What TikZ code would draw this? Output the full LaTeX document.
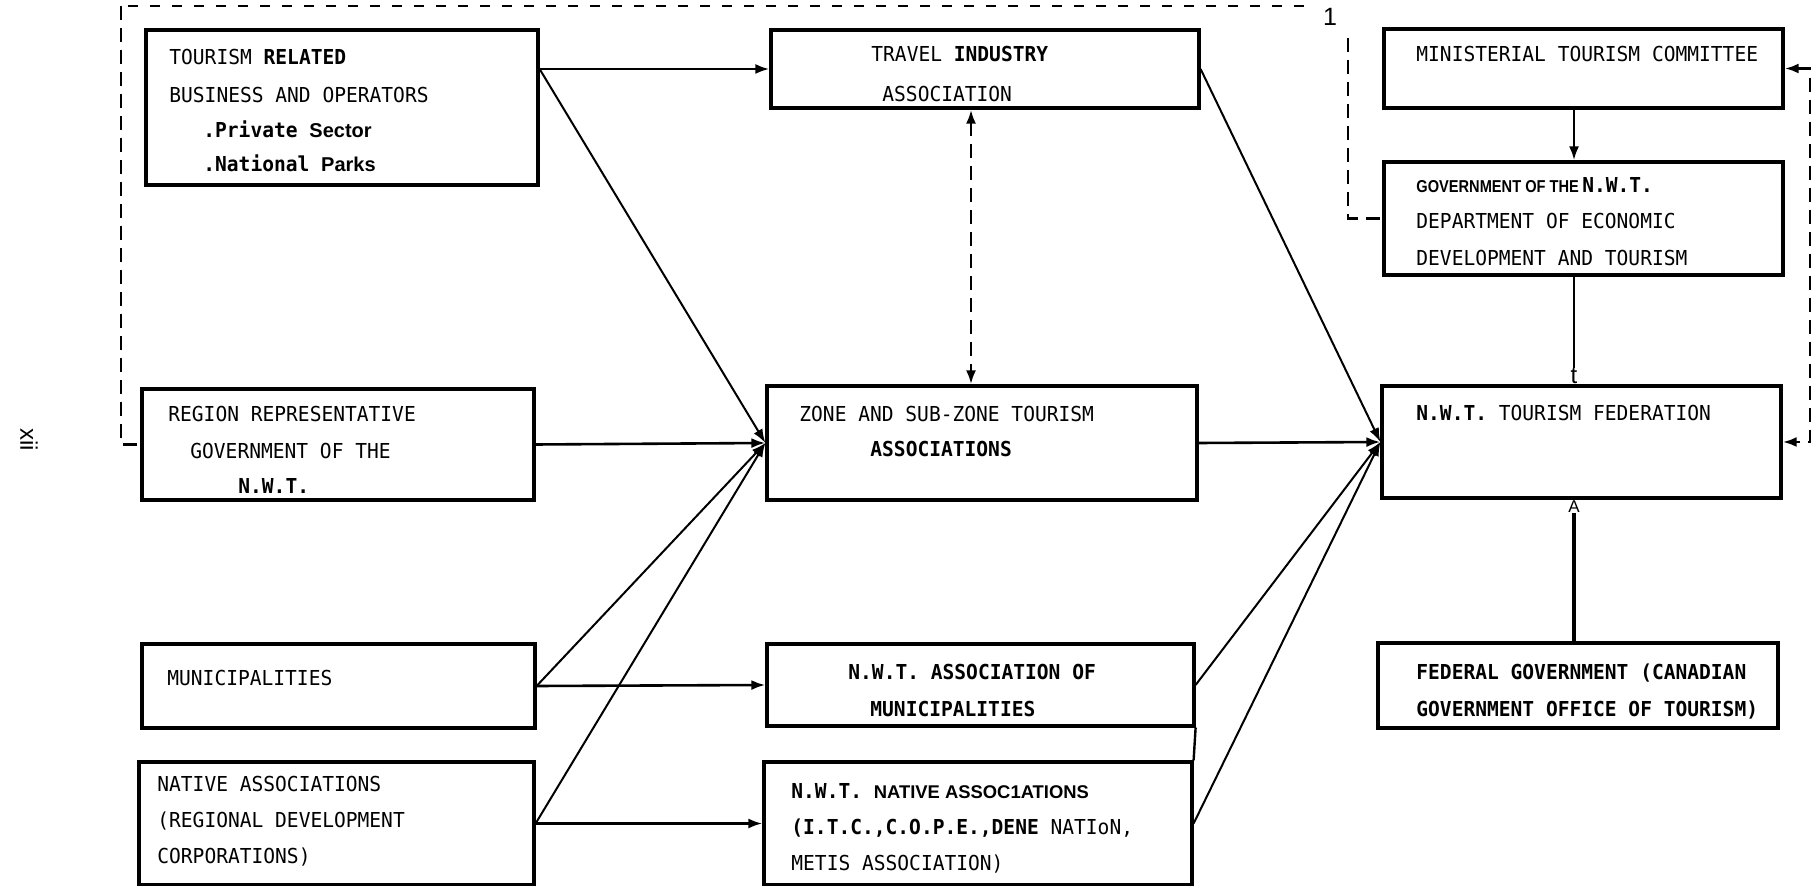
\documentclass[tikz,border=0pt]{standalone}
\usepackage{fontspec}
\setmainfont{DejaVu Sans Mono}[FakeStretch=0.95]
\newfontfamily\hlv{Liberation Sans}
\newfontfamily\hlvn{Liberation Sans}[FakeStretch=0.85]
\usetikzlibrary{arrows.meta}
\newcommand{\mfont}{\fontsize{10.3}{12}\selectfont}
\newcommand{\hlvsml}{\hlv\bfseries\fontsize{10}{12}\selectfont}
\newcommand{\spinex}{1574}
\newcommand{\dashvx}{971}
\newcommand{\txla}{169}
\newcommand{\txlb}{203}
\newcommand{\txlc}{1416}
\newcommand{\txld}{791}
\tikzset{
  bx/.style={draw,line width=1.6pt,inner sep=0pt},
  txt/.style={anchor=west,inner sep=0pt,text height=7.5pt,text depth=0pt},
  arr/.style={-{Latex[length=7pt,width=5pt]},line width=1.3pt},
  dia/.style={arr,line width=1pt},
  dsh/.style={line width=1.4pt,dash pattern=on 7pt off 4pt},
  dshthin/.style={line width=0.7pt,dash pattern=on 5pt off 6pt}
}
\begin{document}
\begin{tikzpicture}[x=0.5pt,y=-0.5pt,font=\mfont]
  \useasboundingbox (0,0) rectangle (1813,886);

  % boxes
  \node[bx,minimum width=196pt,minimum height=77.5pt] (trb) at (342,107.5) {};
  \node[bx,minimum width=214pt,minimum height=39pt] (tia) at (985,69) {};
  \node[bx,minimum width=199.5pt,minimum height=39.5pt] (mtc) at (1583.5,68.5) {};
  \node[bx,minimum width=199.5pt,minimum height=56.5pt] (gov) at (1583.5,218.5) {};
  \node[bx,minimum width=196pt,minimum height=55.5pt] (rrg) at (338,444.5) {};
  \node[bx,minimum width=215pt,minimum height=57pt] (zst) at (982,443) {};
  \node[bx,minimum width=199.5pt,minimum height=56pt] (tfd) at (1581.5,442) {};
  \node[bx,minimum width=196.5pt,minimum height=42pt] (mun) at (338.5,686) {};
  \node[bx,minimum width=213.5pt,minimum height=41pt] (amn) at (980.5,685) {};
  \node[bx,minimum width=197.5pt,minimum height=61.5pt] (nat) at (336.5,823.5) {};
  \node[bx,minimum width=214pt,minimum height=61.5pt] (nna) at (978,823.5) {};
  \node[bx,minimum width=200pt,minimum height=42.5pt] (fgv) at (1578,685.5) {};

  % texts
  \node[txt] (trba) at (\txla,57) {TOURISM \textbf{RELATED}};
  \node[txt] (trbb) at (\txla,95) {BUSINESS AND OPERATORS};
  \node[txt] (trbc) at (\txlb,130) {\textbf{.Private} {\hlvsml Sector}};
  \node[txt] (trbd) at (\txlb,164) {\textbf{.National} {\hlvsml Parks}};

  \node[txt] (tiaa) at (871,54) {TRAVEL \textbf{INDUSTRY}};
  \node[txt] (tiab) at (882,94) {ASSOCIATION};

  \node[txt] (mtca) at (\txlc,54) {MINISTERIAL TOURISM COMMITTEE};

  \node[txt] (gova) at (\txlc,185)
    {{\hlvn\bfseries\fontsize{8.6}{10}\selectfont GOVERNMENT OF THE}\,\textbf{N.W.T.}};
  \node[txt] (govb) at (\txlc,221) {DEPARTMENT OF ECONOMIC};
  \node[txt] (govc) at (\txlc,258) {DEVELOPMENT AND TOURISM};

  \node[txt] (rrga) at (168,414) {REGION REPRESENTATIVE};
  \node[txt] (rrgb) at (190,451) {GOVERNMENT OF THE};
  \node[txt] (rrgc) at (238,486) {\textbf{N.W.T.}};

  \node[txt] (zsta) at (799,414) {ZONE AND SUB-ZONE TOURISM};
  \node[txt] (zstb) at (870,449) {\textbf{ASSOCIATIONS}};

  \node[txt] (tfda) at (\txlc,413) {\textbf{N.W.T.} TOURISM FEDERATION};

  \node[txt] (muna) at (167,678) {MUNICIPALITIES};

  \node[txt] (amna) at (848,672) {\textbf{N.W.T. ASSOCIATION OF}};
  \node[txt] (amnb) at (870,709) {\textbf{MUNICIPALITIES}};

  \node[txt] (nata) at (157,784) {NATIVE ASSOCIATIONS};
  \node[txt] (natb) at (157,820) {(REGIONAL DEVELOPMENT};
  \node[txt] (natc) at (157,856) {CORPORATIONS)};

  \node[txt] (nnaa) at (\txld,791)
    {\textbf{N.W.T.} {\hlv\bfseries\fontsize{9.2}{11}\selectfont NATIVE ASSOC1ATIONS}};
  \node[txt] (nnab) at (\txld,827) {\textbf{(I.T.C.,C.O.P.E.,DENE} NATIoN,};
  \node[txt] (nnac) at (\txld,863) {METIS ASSOCIATION)};

  \node[txt] (fgva) at (\txlc,672) {\textbf{FEDERAL GOVERNMENT (CANADIAN}};
  \node[txt] (fgvb) at (\txlc,709) {\textbf{GOVERNMENT OFFICE OF TOURISM)}};

  \node[font=\hlv\fontsize{12.5}{14}\selectfont,inner sep=0pt] (pgone) at (1330,17) {1};
  \node[font=\hlv\fontsize{12}{14}\selectfont,rotate=-90,inner sep=0pt] (pgno) at (29,440) {xii};
  \node[font=\hlv\fontsize{12}{14}\selectfont,inner sep=0pt] (tfdt) at (\spinex,376) {t};
  \node[font=\hlv\fontsize{8.5}{10}\selectfont,inner sep=0pt] (fgvt) at (\spinex,507) {A};

  % coordinates
  \coordinate (brkend) at (1304,6);
  \coordinate (brktl) at (121,6);
  \coordinate (govdtop) at (1348,38);
  \coordinate (rdash) at (1810,250);
  \coordinate (dashv) at (\dashvx,0);

  % connectors
  \draw[arr] (trb.east |- tia.west) -- (tia.west);
  \draw[dia] (trb.east |- tia.west) -- (zst.west);
  \draw[arr] (rrg.east) -- (zst.west);
  \draw[dia] (mun.east) -- (zst.west);
  \draw[dia] (nat.east) -- (zst.west);
  \draw[arr] (mun.east) -- (amn.west);
  \draw[arr] (nat.east) -- (nna.west);
  \draw[dia] (tia.east) -- (tfd.west);
  \draw[arr] (zst.east) -- (tfd.west);
  \draw[dia] (amn.east) -- (tfd.west);
  \draw[dia] (nna.east) -- (tfd.west);
  \draw[line width=1.2pt] (amn.south east) -- (nna.north east);
  \draw[arr] (mtc.south -| tfdt) -- (gov.north -| tfdt);
  \draw[line width=1.3pt] (gov.south -| tfdt) -- (tfdt.north);
  \draw[line width=1.8pt] (fgv.north -| fgvt) -- (fgvt.south);

  % dashed links
  \draw[dshthin] (brkend) -- (brktl);
  \draw[dsh] (brktl) |- (rrg.west);
  \draw[dsh] (govdtop) |- (gov.west);
  \draw[dsh,{Latex[length=7pt,width=5pt]}-{Latex[length=7pt,width=5pt]}]
    (mtc.east) -| (rdash) |- (tfd.east);
  \draw[dsh,{Latex[length=7pt,width=5pt]}-{Latex[length=7pt,width=5pt]}]
    (tia.south -| dashv) -- (zst.north -| dashv);
\end{tikzpicture}
\end{document}
